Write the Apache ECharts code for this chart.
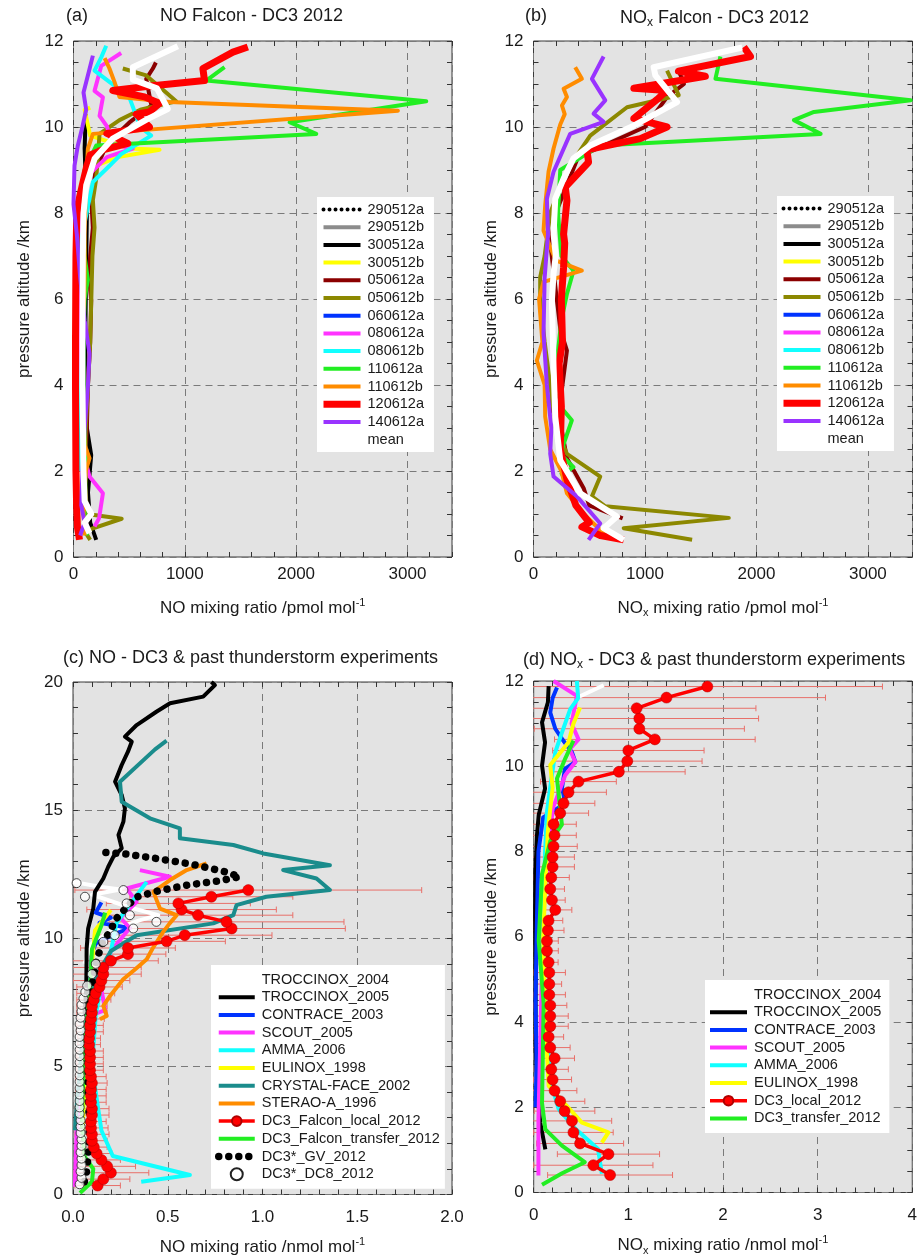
<!DOCTYPE html>
<html><head><meta charset="utf-8">
<script src="https://cdn.jsdelivr.net/npm/echarts@6/dist/echarts.min.js"></script>
<style>html,body{margin:0;padding:0;background:#fff}#c{width:920px;height:1257px}</style>
</head><body><div id="c"></div>
<script>
// ---------------- DATA (x value, pressure altitude km) ----------------
// Panel (a): NO Falcon, pmol/mol
const a_290512a = [];
const a_290512b = [];
const a_300512a = [[204,0.40],[150,0.8],[130,1.5],[159,2.37],[120,3],[100,4],[110,6],[120,8],[100,9.5],[110,10.3]];
const a_300512b = [[40,0.5],[30,2],[30,4],[30,6],[40,8],[100,9],[400,9.3],[773,9.47],[500,9.5],[150,9.8],[100,10.4],[150,10.45]];
const a_050612a = [[120,0.5],[110,1],[100,2],[120,3],[130,4],[150,5],[159,5.97],[140,6.5],[150,7],[174,7.66],[160,8.3],[200,9],[300,9.6],[500,10.1],[700,10.5],[653,11.12],[713,11.36],[740,11.5]];
const a_050612b = [[150,0.4],[100,0.6],[433,0.89],[120,1.0],[110,1.5],[100,2],[110,3],[130,4],[150,5],[160,6],[170,7],[189,7.66],[174,8.3],[204,8.8],[234,9.84],[413,10.16],[600,10.4],[922,10.6],[832,10.8],[653,11.2],[443,11.36]];
const a_060612a = [];
const a_080612a = [[189,0.71],[230,0.9],[264,1.48],[144,1.87],[80,2.5],[60,4],[50,6],[60,8],[100,8.8],[300,9.3],[533,9.5],[350,9.6],[299,10.02],[234,10.26],[264,10.69],[189,10.84],[249,11.42],[428,11.72]];
const a_080612b = [[60,2],[24,5.5],[40,7],[174,8.72],[324,9.1],[428,9.37],[698,9.8],[600,10.0],[500,10.7],[400,10.9],[189,11.31],[249,11.62],[294,11.89]];
const a_110612a = [[120,0.5],[100,1.0],[110,2.2],[100,3],[90,4],[90,5],[100,6],[129,6.45],[100,7],[90,8],[100,9],[204,9.57],[2181,9.84],[1941,10.11],[3169,10.60],[1192,11.08],[1357,11.39]];
const a_110612b = [[100,0.5],[90,1],[110,2],[144,2.3],[100,2.6],[90,3.5],[80,4.5],[90,5.5],[100,6.5],[100,7.5],[110,8.5],[129,9.49],[174,9.84],[2914,10.38],[863,10.58],[413,10.7],[368,11.05],[323,11.36],[280,11.6]];
const a_120612a = [[54,0.40],[35,0.7],[28,1.2],[22,2.0],[20,3.0],[18,4.0],[18,5.0],[20,6.0],[22,7.0],[28,7.8],[40,8.2],[84,8.7],[120,9.1],[150,9.35],[264,9.47],[488,9.62],[300,9.85],[683,10.0],[563,10.3],[683,10.35],[773,10.55],[638,10.7],[353,10.85],[713,10.96],[1177,11.08],[1162,11.36],[1432,11.74],[1566,11.86]];
const a_140612a = [[60,0.5],[100,0.8],[70,1.2],[80,2],[100,3],[130,4],[144,4.73],[100,5.5],[60,6.5],[30,7.5],[0,8.2],[9,9.1],[39,9.57],[80,10.0],[114,10.4],[90,10.8],[144,11.35],[174,11.66]];
const a_mean = [[144,0.55],[100,0.8],[160,1.0],[100,1.3],[90,2],[85,3],[80,4],[80,5],[82,6],[84,7],[90,8],[114,8.64],[189,9.26],[353,9.73],[668,10.19],[847,10.42],[750,10.9],[533,11.1],[533,11.39],[937,11.88]];

// Panel (b): NOx Falcon, pmol/mol
const b_290512a = [], b_290512b = [], b_300512a = [], b_300512b = [], b_060612a = [], b_080612a = [], b_080612b = [];
const b_050612a = [[800,0.9],[500,1.2],[450,1.6],[300,2.3],[250,3],[130,3.6],[250,3.8],[300,4.8],[240,5.3],[200,6.2],[150,7.3],[200,8],[400,9.3],[1000,10.0],[1200,10.7],[1350,11.0],[1303,11.31]];
const b_050612b = [[1423,0.40],[809,0.67],[1752,0.91],[644,1.18],[524,1.41],[599,1.87],[300,2.4],[200,3],[150,4],[100,5],[60,6.0],[60,6.51],[100,7],[150,8],[300,9],[509,9.8],[839,10.46],[1303,10.74],[1198,11.31]];
const b_110612a = [[240,1.9],[359,2.09],[240,2.4],[344,3.18],[240,3.5],[210,4.57],[250,5.5],[300,6.12],[359,6.66],[250,7.0],[220,8],[240,9],[599,9.57],[2576,9.84],[2336,10.16],[2516,10.35],[3384,10.62],[1632,11.12],[1677,11.64]];
const b_110612b = [[650,0.5],[450,1.0],[300,1.48],[250,2.0],[150,2.5],[105,3.26],[100,4],[30,4.57],[80,5],[50,6],[90,6.4],[434,6.66],[200,6.9],[90,7.59],[105,8.18],[135,8.96],[180,9.5],[240,10.06],[280,10.3],[255,10.5],[300,10.7],[270,10.89],[434,11.12],[374,11.39]];
const b_120612a = [[809,0.40],[600,0.5],[434,0.70],[500,0.8],[380,1.2],[300,1.8],[240,2.5],[250,3.5],[230,4.5],[260,5],[250,6],[270,6.74],[280,7.3],[270,7.51],[300,8.29],[285,8.6],[494,9.18],[479,9.47],[958,9.73],[1198,10.0],[900,10.2],[1108,10.64],[1198,10.85],[900,10.9],[1542,11.18],[1300,11.3],[1947,11.64],[1887,11.86]];
const b_140612a = [[494,0.4],[599,0.78],[389,1.41],[180,1.87],[150,2.4],[160,3],[120,4],[90,5.2],[100,6.5],[130,7.5],[120,8.33],[180,8.96],[329,9.84],[629,10.12],[539,10.31],[644,10.62],[524,11.12],[629,11.64]];
const b_mean = [[809,0.40],[629,0.67],[749,0.94],[419,1.48],[240,2.25],[195,3.26],[180,4.42],[165,5.97],[180,6.6],[200,7.0],[180,7.51],[195,8.33],[270,8.8],[359,9.27],[509,9.57],[899,10.03],[1288,10.58],[1093,11.2],[1078,11.39],[1872,11.85]];

// Panel (c): NO, nmol/mol
const c_troc2004 = [[0.06,9.0],[0.1,9.8],[0.2,10.3],[0.35,10.7],[0.45,10.9],[0.3,11.2],[0.1,11.7],[0.25,11.9],[0.15,12.0],[0.0,12.2]];
const c_troc2005 = [[0.06,7.0],[0.07,8.0],[0.072,9.6],[0.08,10.38],[0.107,11.16],[0.116,11.81],[0.16,12.33],[0.186,12.79],[0.213,13.18],[0.257,13.51],[0.24,14.03],[0.266,14.55],[0.274,15.07],[0.257,15.59],[0.222,16.11],[0.257,16.76],[0.29,17.28],[0.31,17.67],[0.274,17.87],[0.336,18.32],[0.44,18.84],[0.512,19.17],[0.687,19.43],[0.749,19.88],[0.73,20.0]];
const c_contrace = [[0.05,4],[0.08,7],[0.1,9.4],[0.12,9.8],[0.2,10.1],[0.3,10.4],[0.14,10.6],[0.2,10.8],[0.12,11.0],[0.15,11.4]];
const c_scout = [[0.01,0.3],[0.015,1.5],[0.02,2.7],[0.1,7.0],[0.17,7.2],[0.15,8],[0.2,9.5],[0.3,10.4],[0.25,10.8],[0.336,11.42],[0.283,11.94],[0.512,12.4],[0.353,12.66]];
const c_amma = [[0.36,0.5],[0.617,0.76],[0.21,1.5],[0.15,2.5],[0.1,5],[0.12,7],[0.16,8.6],[0.2,9.5],[0.23,10.6],[0.318,11.5],[0.389,12.2]];
const c_eulinox = [[0.05,2.5],[0.06,4],[0.08,7],[0.1,9],[0.116,10.3],[0.2,11.1]];
const c_crystal = [[0.01,2.5],[0.02,3.5],[0.05,6.0],[0.09,7.5],[0.12,8.5],[0.2,9.5],[0.336,10.12],[0.74,10.58],[0.846,10.9],[0.863,11.29],[1.02,11.62],[1.356,11.88],[1.285,12.33],[1.109,12.66],[1.356,12.85],[1.004,13.31],[0.846,13.64],[0.564,13.9],[0.564,14.29],[0.406,14.68],[0.257,15.33],[0.248,16.11],[0.433,17.37],[0.494,17.71]];
const c_sterao = [[0.142,6.84],[0.178,6.97],[0.16,7.36],[0.195,7.75],[0.265,8.4],[0.33,8.8],[0.389,9.18],[0.42,9.6],[0.476,10.25],[0.51,10.58],[0.547,10.9],[0.459,11.16],[0.424,11.81],[0.512,12.27],[0.6,12.66],[0.705,12.92]];
const c_localKm  = [0.35,0.6,0.85,1.1,1.35,1.6,1.85,2.1,2.35,2.6,2.85,3.1,3.35,3.6,3.85,4.1,4.35,4.6,4.85,5.1,5.35,5.6,5.85,6.1,6.35,6.6,6.85,7.1,7.35,7.6,7.85,8.1,8.35,8.6,8.86,9.12,9.38,9.62,9.88,10.12,10.38,10.64,10.9,11.12,11.36,11.62,11.88];
const c_localVal = [0.13,0.16,0.2,0.18,0.15,0.125,0.11,0.1,0.1,0.095,0.095,0.1,0.1,0.095,0.095,0.095,0.1,0.095,0.09,0.09,0.09,0.09,0.085,0.085,0.09,0.09,0.095,0.1,0.1,0.11,0.12,0.14,0.15,0.16,0.16,0.2,0.29,0.29,0.494,0.59,0.837,0.81,0.66,0.573,0.556,0.73,0.925];
const c_localErr = [0.12,0.14,0.2,0.15,0.1,0.08,0.07,0.08,0.09,0.09,0.08,0.09,0.09,0.08,0.08,0.08,0.08,0.08,0.07,0.07,0.07,0.07,0.06,0.06,0.07,0.07,0.07,0.08,0.08,0.09,0.1,0.12,0.15,0.2,0.2,0.25,0.2,0.25,0.31,0.46,0.6,0.62,0.5,0.5,0.38,0.43,0.915];
const c_transfer = [[0.037,0.06],[0.1,0.5],[0.107,1.0],[0.06,1.5],[0.046,2.8],[0.055,4.75],[0.065,6.0],[0.072,6.7],[0.09,8.0],[0.1,9.57],[0.15,10.5],[0.17,11.0]];
const c_gv = [[0.06,0.5],[0.07,0.8],[0.08,1.5],[0.085,2.0],[0.085,3.0],[0.08,4.0],[0.08,5.0],[0.08,6.0],[0.085,7.0],[0.095,8.0],[0.11,8.5],[0.12,9.0],[0.14,9.5],[0.16,9.9],[0.2,10.3],[0.22,10.7],[0.27,11.1],[0.33,11.6],[0.45,11.85],[0.6,12.07],[0.78,12.25],[0.88,12.4],[0.8,12.6],[0.62,12.9],[0.45,13.1],[0.27,13.3],[0.125,13.37]];
const c_dc8 = [[0.035,0.4],[0.045,0.65],[0.04,0.9],[0.045,1.15],[0.045,1.4],[0.04,1.65],[0.045,1.9],[0.045,2.15],[0.04,2.4],[0.04,2.65],[0.04,2.9],[0.035,3.15],[0.035,3.4],[0.035,3.65],[0.035,3.9],[0.035,4.15],[0.035,4.4],[0.035,4.65],[0.035,4.9],[0.035,5.15],[0.035,5.4],[0.035,5.65],[0.035,5.9],[0.035,6.15],[0.04,6.4],[0.035,6.65],[0.04,6.9],[0.045,7.15],[0.045,7.4],[0.055,7.65],[0.065,7.9],[0.075,8.15],[0.1,8.6],[0.12,9.0],[0.16,9.86],[0.22,10.12],[0.318,10.38],[0.44,10.64],[0.3,10.9],[0.283,11.36],[0.063,11.62],[0.266,11.88],[0.019,12.15]];

// Panel (d): NOx, nmol/mol
const d_troc2004 = [[0.45,11.6],[0.74,11.9]];
const d_troc2005 = [[0.123,1.01],[0.07,1.63],[0.04,2.3],[0.02,3.5],[0.02,5],[0.015,6.5],[0.0175,7.47],[0.035,8.4],[0.053,8.86],[0.12,9.48],[0.088,10.02],[0.12,10.56],[0.088,11.03],[0.15,11.5],[0.158,11.88]];
const d_contrace = [[0.02,2.0],[0.03,3],[0.02,4.5],[0.03,6],[0.05,8],[0.1,8.8],[0.333,9.13],[0.3,9.5],[0.33,9.94],[0.44,10.1],[0.404,10.33],[0.3,10.64],[0.228,10.88],[0.175,11.26],[0.2,11.6],[0.246,11.85]];
const d_scout = [[0.05,0.4],[0.05,1.0],[0.05,1.7],[0.1,6.5],[0.2,9.0],[0.333,9.79],[0.44,10.1],[0.38,10.4],[0.474,10.63],[0.4,11.0],[0.456,11.65],[0.21,12.0]];
const d_amma = [[0.72,0.44],[0.68,1.02],[0.438,1.5],[0.263,1.96],[0.193,2.5],[0.12,4],[0.1,6],[0.12,8],[0.14,8.93],[0.18,9.6],[0.228,10.33],[0.3,10.8],[0.386,11.34],[0.47,11.6],[0.456,12.0]];
const d_eulinox = [[0.72,1.17],[0.79,1.41],[0.51,1.64],[0.158,2.5],[0.123,4.04],[0.1,6],[0.15,8.5],[0.2,9.5],[0.175,10.03],[0.368,10.56],[0.42,11.0],[0.49,11.38]];
const d_localKm  = [0.41,0.64,0.9,1.15,1.41,1.68,1.91,2.14,2.39,2.65,2.89,3.15,3.4,3.65,3.9,4.14,4.39,4.64,4.89,5.16,5.4,5.67,5.9,6.15,6.38,6.63,6.86,7.12,7.39,7.64,7.87,8.12,8.38,8.64,8.9,9.13,9.39,9.64,9.87,10.12,10.37,10.63,10.88,11.12,11.36,11.61,11.87];
const d_localVal = [0.807,0.63,0.79,0.49,0.42,0.404,0.326,0.28,0.221,0.2,0.186,0.221,0.175,0.158,0.175,0.175,0.175,0.165,0.165,0.165,0.158,0.14,0.14,0.15,0.157,0.228,0.193,0.175,0.186,0.2,0.2,0.21,0.22,0.21,0.28,0.316,0.368,0.473,0.9,0.989,1.0,1.28,1.116,1.116,1.088,1.403,1.835];
const d_localErr = [0.66,0.63,0.54,0.46,0.42,0.42,0.32,0.26,0.235,0.2,0.18,0.21,0.21,0.158,0.19,0.19,0.175,0.17,0.13,0.17,0.1,0.12,0.12,0.17,0.15,0.175,0.14,0.15,0.19,0.23,0.23,0.25,0.23,0.24,0.3,0.33,0.4,0.4,0.7,0.79,0.8,1.06,1.11,1.26,1.26,1.68,1.85];
const d_transfer = [[0.088,0.18],[0.3,0.45],[0.54,0.71],[0.298,1.1],[0.123,1.48],[0.088,2.1],[0.105,4.43],[0.053,5.91],[0.088,7.47],[0.175,8.24],[0.298,8.63],[0.246,9.71],[0.333,10.18],[0.42,10.6]];

// Legend / tick labels
const flightNames = ['290512a','290512b','300512a','300512b','050612a','050612b','060612a','080612a','080612b','110612a','110612b','120612a','140612a','mean'];
const cNames = ['TROCCINOX_2004','TROCCINOX_2005','CONTRACE_2003','SCOUT_2005','AMMA_2006','EULINOX_1998','CRYSTAL-FACE_2002','STERAO-A_1996','DC3_Falcon_local_2012','DC3_Falcon_transfer_2012','DC3*_GV_2012','DC3*_DC8_2012'];
const dNames = ['TROCCINOX_2004','TROCCINOX_2005','CONTRACE_2003','SCOUT_2005','AMMA_2006','EULINOX_1998','DC3_local_2012','DC3_transfer_2012'];
const symbolNames = ['DC3_Falcon_local_2012','DC3*_DC8_2012','DC3_local_2012'];

// ---------------- BUILD ----------------
const FONT = "'Liberation Sans', Arial, sans-serif";
const TXT = '#1a1a1a';
const rich = {
  n: {fontSize: 17, fontFamily: FONT, color: TXT},
  sub: {fontSize: 11, fontFamily: FONT, color: TXT, padding: [10, 0, 0, 0]},
  sup: {fontSize: 11, fontFamily: FONT, color: TXT, padding: [0, 0, 11, 0]}
};
const richT = {
  n: {fontSize: 18, fontFamily: FONT, color: TXT},
  sub: {fontSize: 12, fontFamily: FONT, color: TXT, padding: [10, 0, 0, 0]}
};

const grids = [
  {left: 73.5, top: 41, width: 378.5, height: 516},
  {left: 533.5, top: 41, width: 379, height: 516},
  {left: 73, top: 682, width: 379, height: 513},
  {left: 533.7, top: 681, width: 380, height: 515}
];
const panels = [
  {x: [0, 3400, 200, 1000, v => String(v)], y: [0, 12, 0.5, 2], xName: '{n|NO mixing ratio /pmol mol}{sup|-1}', yGap: 41, lm: 9, ng: 40},
  {x: [0, 3400, 200, 1000, v => String(v)], y: [0, 12, 0.5, 2], xName: '{n|NO}{sub|x}{n| mixing ratio /pmol mol}{sup|-1}', yGap: 34, lm: 9, ng: 40},
  {x: [0, 2, 0.1, 0.5, v => v.toFixed(1)], y: [0, 20, 1, 5], xName: '{n|NO mixing ratio /nmol mol}{sup|-1}', yGap: 40, lm: 14, ng: 42},
  {x: [0, 4, 0.2, 1, v => String(Math.round(v))], y: [0, 12, 0.5, 2], xName: '{n|NO}{sub|x}{n| mixing ratio /nmol mol}{sup|-1}', yGap: 34, lm: 14, ng: 42}
];
const isMajor = (v, m) => Math.abs(v / m - Math.round(v / m)) < 1e-6;
const tickStyle = {show: true, inside: true, length: 5, lineStyle: {color: '#333', width: 1}};
const split = {show: true, lineStyle: {color: '#7a7a7a', type: [7, 5], width: 1}};
const xAxis = [], yAxis = [];
panels.forEach((p, gi) => {
  const [xmin, xmax, xmin_i, xmaj, xfmt] = p.x;
  const [ymin, ymax, ymin_i, ymaj] = p.y;
  xAxis.push({gridIndex: gi, type: 'value', min: xmin, max: xmax, interval: xmin_i, position: 'bottom',
    axisLine: {show: false, onZero: false}, axisTick: tickStyle, splitLine: {show: false},
    axisLabel: {margin: p.lm, fontSize: 17, fontFamily: FONT, color: TXT, showMinLabel: true, showMaxLabel: true,
      formatter: v => isMajor(v, xmaj) ? xfmt(v) : ''},
    name: p.xName, nameLocation: 'middle', nameGap: p.ng,
    nameTextStyle: {fontSize: 17, fontFamily: FONT, color: TXT, rich: rich}});
  xAxis.push({gridIndex: gi, type: 'value', min: xmin, max: xmax, interval: xmin_i, position: 'top',
    axisLine: {show: false, onZero: false}, axisTick: tickStyle, splitLine: {show: false}, axisLabel: {show: false}});
  xAxis.push({gridIndex: gi, type: 'value', min: xmin, max: xmax, interval: xmaj, position: 'bottom',
    axisLine: {show: false, onZero: false}, axisTick: {show: false}, axisLabel: {show: false}, splitLine: split});
  yAxis.push({gridIndex: gi, type: 'value', min: ymin, max: ymax, interval: ymin_i, position: 'left',
    axisLine: {show: false, onZero: false}, axisTick: tickStyle, splitLine: {show: false},
    axisLabel: {margin: 10, fontSize: 17, fontFamily: FONT, color: TXT, showMinLabel: true, showMaxLabel: true,
      formatter: v => isMajor(v, ymaj) ? String(Math.round(v)) : ''},
    name: 'pressure altitude /km', nameLocation: 'middle', nameGap: p.yGap,
    nameTextStyle: {fontSize: 17, fontFamily: FONT, color: TXT}});
  yAxis.push({gridIndex: gi, type: 'value', min: ymin, max: ymax, interval: ymin_i, position: 'right',
    axisLine: {show: false, onZero: false}, axisTick: tickStyle, splitLine: {show: false}, axisLabel: {show: false}});
  yAxis.push({gridIndex: gi, type: 'value', min: ymin, max: ymax, interval: ymaj, position: 'left',
    axisLine: {show: false, onZero: false}, axisTick: {show: false}, axisLabel: {show: false}, splitLine: split});
});

const series = [];
function ln(gi, name, data, color, width, extra) {
  series.push(Object.assign({
    type: 'line', name: name, xAxisIndex: gi * 3, yAxisIndex: gi * 3, data: data,
    symbol: 'none', showSymbol: false, silent: true, animation: false,
    lineStyle: {color: color, width: width, join: 'round'}, itemStyle: {color: color}
  }, extra || {}));
}
function errBars(gi, km, val, err) {
  series.push({
    type: 'custom', name: 'err' + gi, xAxisIndex: gi * 3, yAxisIndex: gi * 3, clip: true, silent: true, animation: false,
    encode: {x: 0, y: 1},
    data: km.map((k, i) => [val[i], k, err[i]]),
    renderItem: function (params, api) {
      const x = api.value(0), y = api.value(1), e = api.value(2);
      const p0 = api.coord([x - e, y]), p1 = api.coord([x + e, y]);
      const st = {stroke: '#e8706a', lineWidth: 1};
      return {type: 'group', children: [
        {type: 'line', shape: {x1: p0[0], y1: p0[1], x2: p1[0], y2: p1[1]}, style: st},
        {type: 'line', shape: {x1: p0[0], y1: p0[1] - 3, x2: p0[0], y2: p0[1] + 3}, style: st},
        {type: 'line', shape: {x1: p1[0], y1: p1[1] - 3, x2: p1[0], y2: p1[1] + 3}, style: st}
      ]};
    }
  });
}
const COL = {
  blackdot: '#000', gray: '#8c8c8c', black: '#000', yellow: '#ffff00', darkred: '#8b0000', olive: '#8c8800',
  blue: '#0033ff', magenta: '#ff33ff', cyan: '#11ffff', green: '#22ee22', orange: '#ff8c00', red: '#ff0000',
  purple: '#9933ff', white: '#ffffff', teal: '#1a8c8c'
};
[[0, [a_290512a, a_290512b, a_300512a, a_300512b, a_050612a, a_050612b, a_060612a, a_080612a, a_080612b, a_110612a, a_110612b, a_120612a, a_140612a, a_mean]],
 [1, [b_290512a, b_290512b, b_300512a, b_300512b, b_050612a, b_050612b, b_060612a, b_080612a, b_080612b, b_110612a, b_110612b, b_120612a, b_140612a, b_mean]]
].forEach(([gi, arr]) => {
  ln(gi, flightNames[0], arr[0], COL.blackdot, 4, {lineStyle: {color: '#000', width: 4, type: [0.01, 6], cap: 'round'}});
  ln(gi, flightNames[1], arr[1], COL.gray, 4);
  ln(gi, flightNames[2], arr[2], COL.black, 4);
  ln(gi, flightNames[3], arr[3], COL.yellow, 4);
  ln(gi, flightNames[4], arr[4], COL.darkred, 4);
  ln(gi, flightNames[5], arr[5], COL.olive, 4);
  ln(gi, flightNames[6], arr[6], COL.blue, 4);
  ln(gi, flightNames[7], arr[7], COL.magenta, 4);
  ln(gi, flightNames[8], arr[8], COL.cyan, 4);
  ln(gi, flightNames[9], arr[9], COL.green, 4);
  ln(gi, flightNames[10], arr[10], COL.orange, 4);
  ln(gi, flightNames[11], arr[11], COL.red, 7);
  ln(gi, flightNames[12], arr[12], COL.purple, 4);
  ln(gi, flightNames[13], arr[13], COL.white, 6);
});
ln(2, cNames[0], c_troc2004, COL.white, 4);
ln(2, cNames[1], c_troc2005, COL.black, 4);
ln(2, cNames[2], c_contrace, COL.blue, 4);
ln(2, cNames[3], c_scout, COL.magenta, 4);
ln(2, cNames[4], c_amma, COL.cyan, 4);
ln(2, cNames[5], c_eulinox, COL.yellow, 4);
ln(2, cNames[6], c_crystal, COL.teal, 4);
ln(2, cNames[7], c_sterao, COL.orange, 4);
errBars(2, c_localKm, c_localVal, c_localErr);
ln(2, cNames[8], c_localKm.map((k, i) => [c_localVal[i], k]), COL.red, 3.5,
  {symbol: 'circle', showSymbol: true, symbolSize: 11, itemStyle: {color: '#ff0000', borderColor: '#b00000', borderWidth: 0.5}});
ln(2, cNames[9], c_transfer, COL.green, 4);
ln(2, cNames[10], c_gv, COL.black, 8, {lineStyle: {color: '#000', width: 7.5, type: [0.01, 10], cap: 'round'}});
series.push({type: 'scatter', name: cNames[11], xAxisIndex: 6, yAxisIndex: 6, data: c_dc8, symbol: 'circle', symbolSize: 9,
  silent: true, animation: false, z: 3, itemStyle: {color: '#fff', borderColor: '#222', borderWidth: 1}});
ln(3, dNames[0], d_troc2004, COL.white, 4);
ln(3, dNames[1], d_troc2005, COL.black, 4);
ln(3, dNames[2], d_contrace, COL.blue, 4);
ln(3, dNames[3], d_scout, COL.magenta, 4);
ln(3, dNames[4], d_amma, COL.cyan, 4);
ln(3, dNames[5], d_eulinox, COL.yellow, 4);
errBars(3, d_localKm, d_localVal, d_localErr);
ln(3, dNames[6], d_localKm.map((k, i) => [d_localVal[i], k]), COL.red, 3.5,
  {symbol: 'circle', showSymbol: true, symbolSize: 11, itemStyle: {color: '#ff0000', borderColor: '#b00000', borderWidth: 0.5}});
ln(3, dNames[7], d_transfer, COL.green, 4);

function legend(left, top, names, pad, iw) {
  return {left: left, top: top, orient: 'vertical', backgroundColor: '#fff', padding: pad,
    data: names.map(n => symbolNames.indexOf(n) >= 0 ? {name: n, itemStyle: {opacity: 1}} : {name: n}),
    itemWidth: iw, itemHeight: 12, itemGap: 2.7, selectedMode: false, borderWidth: 0,
    itemStyle: {opacity: 0},
    lineStyle: {width: 'inherit'},
    textStyle: {fontSize: 14.5, fontFamily: FONT, color: TXT, lineHeight: 14, padding: [0, 0, 0, 2]}};
}

const option = {
  animation: false,
  backgroundColor: '#ffffff',
  title: [
    {text: '(a)', left: 66, top: 7, padding: 0, textStyle: {fontSize: 18, fontWeight: 'normal', fontFamily: FONT, color: TXT}},
    {text: 'NO Falcon - DC3 2012', left: 160, top: 7, padding: 0, textStyle: {fontSize: 18, fontWeight: 'normal', fontFamily: FONT, color: TXT}},
    {text: '(b)', left: 525, top: 7, padding: 0, textStyle: {fontSize: 18, fontWeight: 'normal', fontFamily: FONT, color: TXT}},
    {text: '{n|NO}{sub|x}{n| Falcon - DC3 2012}', left: 620, top: 7, padding: 0, textStyle: {fontSize: 18, fontWeight: 'normal', fontFamily: FONT, color: TXT, rich: richT}},
    {text: '(c) NO - DC3 & past thunderstorm experiments', left: 63, top: 649, padding: 0, textStyle: {fontSize: 18, fontWeight: 'normal', fontFamily: FONT, color: TXT}},
    {text: '{n|(d) NO}{sub|x}{n| - DC3 & past thunderstorm experiments}', left: 523, top: 649, padding: 0, textStyle: {fontSize: 18, fontWeight: 'normal', fontFamily: FONT, color: TXT, rich: richT}}
  ],
  grid: grids.map(g => Object.assign({show: true, backgroundColor: '#e3e3e3', borderColor: '#3a3a3a', borderWidth: 1, containLabel: false}, g)),
  legend: [
    legend(317, 197, flightNames, [5, 10, 5, 3], 37),
    legend(777, 196, flightNames, [5, 10, 5, 3], 37),
    legend(211, 965, cNames, [7, 5, 7, 4], 36),
    legend(705, 980, dNames, [7, 8, 7, 3], 37)
  ],
  xAxis: xAxis,
  yAxis: yAxis,
  series: series
};
const chart = echarts.init(document.getElementById('c'), null, {renderer: 'canvas'});
chart.setOption(option);
</script></body></html>
